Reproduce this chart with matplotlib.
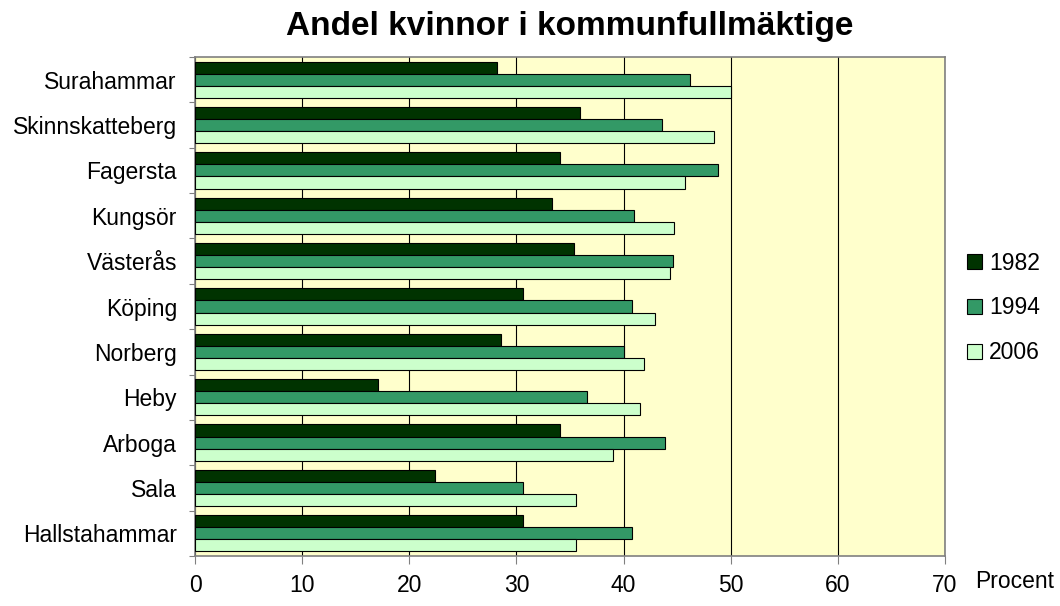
import matplotlib.pyplot as plt
from matplotlib.patches import Patch
import numpy as np

plt.rcParams['font.family'] = ['Liberation Sans', 'DejaVu Sans']

# Data (percent women in municipal councils)
kommuner = ["Surahammar", "Skinnskatteberg", "Fagersta", "Kungsör", "Västerås",
            "Köping", "Norberg", "Heby", "Arboga", "Sala", "Hallstahammar"]
years = ["1982", "1994", "2006"]
v1982 = [28.2, 35.9, 34.1, 33.3, 35.4, 30.6, 28.6, 17.1, 34.1, 22.4, 30.6]
v1994 = [46.2, 43.6, 48.8, 41.0, 44.6, 40.8, 40.0, 36.6, 43.9, 30.6, 40.8]
v2006 = [50.0, 48.4, 45.7, 44.7, 44.3, 42.9, 41.9, 41.5, 39.0, 35.6, 35.6]
colors = ["#003300", "#339966", "#CCFFCC"]

fig = plt.figure(figsize=(10.6, 6.06), dpi=100)
ax = fig.add_axes([195 / 1060, 1 - 556 / 606, 750 / 1060, 499 / 606])
ax.set_facecolor("#FFFFCC")

y = np.arange(len(kommuner))
h = 0.2667
for j, vals in enumerate([v1982, v1994, v2006]):
    ax.barh(y + (j - 1) * h, vals, height=h, color=colors[j],
            edgecolor="black", linewidth=0.8, zorder=3)

ax.set_xlim(0, 70)
ax.set_ylim(len(kommuner) - 0.5, -0.5)
ax.set_xticks(np.arange(0, 71, 10))
ax.xaxis.grid(True, color="black", linewidth=0.8, zorder=1)
ax.set_axisbelow(True)

# category boundaries as tick marks, names centred in between
ax.set_yticks(np.arange(-0.5, len(kommuner), 1))
ax.set_yticklabels([])
ax.set_yticks(y, minor=True)
ax.set_yticklabels(kommuner, minor=True, fontsize=16.5)
ax.tick_params(axis="y", which="major", length=4, color="#808080", direction="out")
ax.tick_params(axis="y", which="minor", length=0, pad=13)
ax.tick_params(axis="x", length=6, color="#808080", pad=7, labelsize=16.5)

for s in ax.spines.values():
    s.set_color("#808080")
    s.set_linewidth(1.2)

fig.text(570 / 1060, 1 - 26 / 606, "Andel kvinnor i kommunfullmäktige",
         ha="center", va="center", fontsize=24, fontweight="bold")
fig.text(975 / 1060, 1 - 581 / 606, "Procent", ha="left", va="center", fontsize=16.5)

handles = [Patch(facecolor=c, edgecolor="black", linewidth=0.8) for c in colors]
fig.legend(handles, years, loc="center left", bbox_to_anchor=(967 / 1060, 1 - 308 / 606),
           frameon=False, fontsize=16.5, handlelength=0.65, handleheight=0.65,
           handletextpad=0.3, labelspacing=0.95, borderpad=0, borderaxespad=0)

fig.savefig("out.png", dpi=100)
